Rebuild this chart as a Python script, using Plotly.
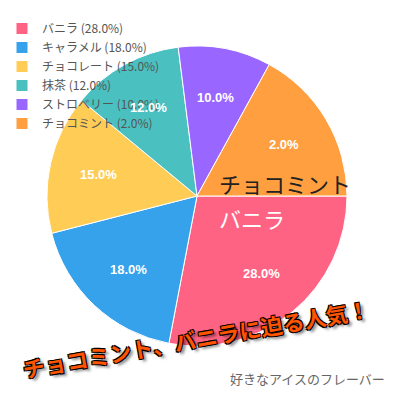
import math
import plotly.graph_objects as go

# 好きなアイスのフレーバー
flavors = ["バニラ", "キャラメル", "チョコレート", "抹茶", "ストロベリー", "チョコミント"]
values = [28, 18, 15, 12, 10, 17]          # 扇形の大きさ
shown_pct = [28.0, 18.0, 15.0, 12.0, 10.0, 2.0]  # 表示するラベル (チョコミントは 2.0%)
colors = ["#FF6384", "#36A2EB", "#FFCD56", "#4BC0C0", "#9966FF", "#FF9F40"]
title = "好きなアイスのフレーバー"
slogan = "チョコミント、バニラに迫る人気！"

W = H = 400
cx, cy, R = 197, 196, 150  # px, 上から


def paper(x, y):
    return dict(x=x / W, y=1 - y / H, xref="paper", yref="paper")


legend_names = [f"{f} ({p:.1f}%)" for f, p in zip(flavors, shown_pct)]

fig = go.Figure()
fig.add_trace(go.Pie(
    labels=legend_names,
    values=values,
    marker=dict(colors=colors, line=dict(color="white", width=1)),
    sort=False,
    direction="clockwise",
    rotation=90,
    textinfo="none",
    hoverinfo="label",
    domain=dict(x=[(cx - R) / W, (cx + R) / W], y=[(H - cy - R) / H, (H - cy + R) / H]),
))

# パーセント表示 (扇の中央、半径の約2/3)
total = sum(values)
acc = 0
for v, p in zip(values, shown_pct):
    mid = (acc + v / 2) / total * 2 * math.pi
    acc += v
    fig.add_annotation(**paper(cx + 0.67 * R * math.cos(mid), cy + 0.67 * R * math.sin(mid)),
                       xanchor="center", yanchor="middle",
                       text=f"{p:.1f}%", showarrow=False,
                       font=dict(family="Liberation Sans, Arial", size=13, color="white", weight="bold"))

# 大きなラベル
fig.add_annotation(**paper(cx + 20, 183), xanchor="left", yanchor="middle",
                   text=flavors[5], showarrow=False,
                   font=dict(family="Noto Sans CJK JP", size=22, color="#222"))
fig.add_annotation(**paper(cx + 20, 218), xanchor="left", yanchor="middle",
                   text=flavors[0], showarrow=False,
                   font=dict(family="Noto Sans CJK JP", size=22, color="white"))

# 煽り文句
fig.add_annotation(**paper(196, 338), xanchor="center", yanchor="middle",
                   text=f"<b>{slogan}</b>", showarrow=False, textangle=-10,
                   font=dict(family="Noto Sans CJK JP", size=22, color="#FF5500",
                             shadow="1px 1px 0 #000, -1px -1px 0 #000, 1px -1px 0 #000, -1px 1px 0 #000, 3px 3px 3px rgba(0,0,0,0.5)"))

# タイトル (右下)
fig.add_annotation(**paper(387, 378), xanchor="right", yanchor="middle",
                   text=title, showarrow=False,
                   font=dict(family="Noto Sans CJK JP", size=13, color="#666"))

fig.update_layout(
    width=W, height=H,
    margin=dict(l=0, r=0, t=0, b=0),
    paper_bgcolor="white",
    showlegend=True,
    legend=dict(x=0.005, y=1 - 14 / H, xanchor="left", yanchor="top",
                bgcolor="rgba(0,0,0,0)", tracegroupgap=0, itemwidth=30,
                font=dict(family="Noto Sans CJK JP, Liberation Sans", size=12, color="#555")),
)

fig.write_html("out.html", config={"displayModeBar": False},
               post_script="document.body.style.margin='0';")
